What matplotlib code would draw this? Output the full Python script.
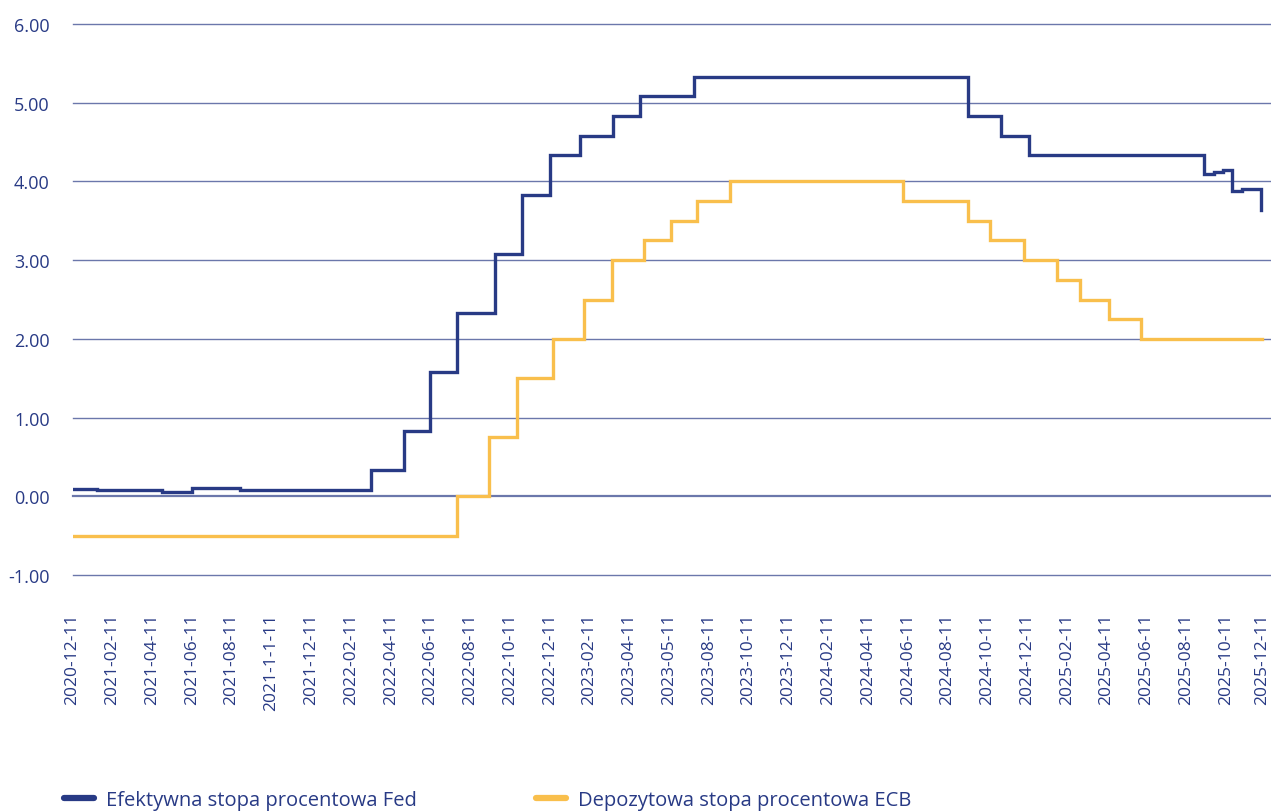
import matplotlib
matplotlib.use("Agg")
import matplotlib.pyplot as plt
import matplotlib.transforms as mtransforms
from matplotlib.lines import Line2D

# category labels along the bottom (one every tick position)
tick_labels = ["2020-12-11", "2021-02-11", "2021-04-11", "2021-06-11", "2021-08-11",
               "2021-1-1-11", "2021-12-11", "2022-02-11", "2022-04-11", "2022-06-11",
               "2022-08-11", "2022-10-11", "2022-12-11", "2023-02-11", "2023-04-11",
               "2023-05-11", "2023-08-11", "2023-10-11", "2023-12-11", "2024-02-11",
               "2024-04-11", "2024-06-11", "2024-08-11", "2024-10-11", "2024-12-11",
               "2025-02-11", "2025-04-11", "2025-06-11", "2025-08-11", "2025-10-11",
               "2025-12-11"]

# Fed effective rate: position on the category axis where the level changes, new level
fed_pos = [0.0, 0.61, 2.24, 3.01, 4.21, 7.50, 8.34, 8.99, 9.66, 10.62, 11.31, 12.01,
           12.76, 13.58, 14.27, 15.63, 22.52, 23.35, 24.05, 28.45, 28.69, 28.93,
           29.16, 29.40, 29.88]
fed_val = [0.09, 0.08, 0.06, 0.10, 0.08, 0.33, 0.83, 1.58, 2.33, 3.08, 3.83, 4.33,
           4.58, 4.83, 5.08, 5.33, 4.83, 4.58, 4.33, 4.10, 4.12, 4.14,
           3.88, 3.90, 3.64]

# ECB deposit facility rate
ecb_pos = [0.0, 9.66, 10.48, 11.17, 12.07, 12.87, 13.56, 14.38, 15.04, 15.70, 16.53,
           20.87, 22.52, 23.08, 23.93, 24.75, 25.33, 26.06, 26.87, 29.91]
ecb_val = [-0.50, 0.00, 0.75, 1.50, 2.00, 2.50, 3.00, 3.25, 3.50, 3.75, 4.00,
           3.75, 3.50, 3.25, 3.00, 2.75, 2.50, 2.25, 2.00, 2.00]

navy = "#283a85"
gold = "#f9bf4c"
grid = "#6b77ab"

plt.rcParams["font.family"] = ["Open Sans", "DejaVu Sans"]

fig = plt.figure(figsize=(12.71, 8.12), dpi=100)
ax = fig.add_axes([72.5 / 1271, 236 / 812, 1197.5 / 1271, 551 / 812])

ax.set_xlim(0, 30.11)
ax.set_ylim(-1, 6)

yt = [-1, 0, 1, 2, 3, 4, 5, 6]
ax.set_yticks(yt)
ax.set_yticklabels([f"{v:.2f}" for v in yt])
for v in yt:
    ax.axhline(v, color=grid, lw=1.6 if v == 0 else 1.0, zorder=1, clip_on=False)

ax.step(fed_pos, fed_val, where="post", color=navy, lw=2.4, zorder=3,
        solid_joinstyle="miter")
ax.step(ecb_pos, ecb_val, where="post", color=gold, lw=2.4, zorder=2,
        solid_joinstyle="miter")

ax.set_xticks(range(len(tick_labels)))
ax.set_xticklabels(tick_labels, rotation=90, va="top", ha="center")
ax.tick_params(axis="x", length=0, pad=27, labelsize=12.5, labelcolor=navy)
ax.tick_params(axis="y", length=0, pad=16.5, labelsize=13, labelcolor=navy)
for s in ax.spines.values():
    s.set_visible(False)

# keep the last date label inside the canvas
last = ax.get_xticklabels()[-1]
last.set_transform(last.get_transform() +
                   mtransforms.ScaledTranslation(-4 / 100, 0, fig.dpi_scale_trans))

handles = [Line2D([], [], color=navy, lw=4.5, solid_capstyle="round"),
           Line2D([], [], color=gold, lw=4.5, solid_capstyle="round")]
fig.legend(handles, ["Efektywna stopa procentowa Fed", "Depozytowa stopa procentowa ECB"],
           loc="lower left", bbox_to_anchor=(46 / 1271, -17 / 812), ncol=2, frameon=False,
           fontsize=14.5, labelcolor=navy, handlelength=1.5, handletextpad=0.6,
           columnspacing=5.9)

fig.savefig("out.png", dpi=100)
